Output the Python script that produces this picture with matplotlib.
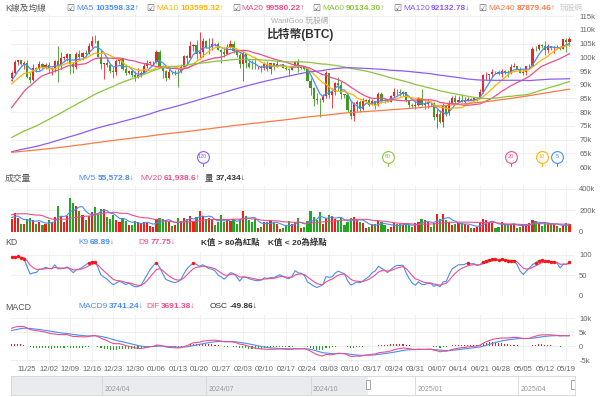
import numpy as np
import pandas as pd
import matplotlib
matplotlib.use('Agg')
import matplotlib.pyplot as plt
import matplotlib.dates as mdates
from matplotlib.patches import Rectangle

plt.rcParams['font.family'] = ['Liberation Sans', 'Noto Sans CJK TC', 'DejaVu Sans']

# daily closes before the first visible candle (2024-03-25 .. 2024-11-19), k USD,
# only used to warm up the moving averages / KD / MACD
pre_close = [
    69.9, 69.9, 69.4, 71.3, 70.0, 69.6, 71.3,
    69.7, 65.4, 65.9, 68.5, 67.8, 68.9, 69.4, 71.6, 69.1, 70.6, 70.0, 67.1, 63.8, 65.7, 63.4,
    63.8, 61.3, 63.5, 63.8, 64.9, 64.9, 66.8, 66.4, 64.3, 64.5, 64.0, 63.4, 63.1, 63.8, 60.6,
    58.3, 59.1, 62.9, 63.9, 64.0, 63.2, 62.3, 61.2, 63.1, 60.8, 60.8, 61.5, 62.9, 61.6, 66.3,
    65.2, 67.0, 66.9, 66.3, 71.4, 70.1, 69.1, 67.9, 68.5, 69.3, 68.5, 69.4, 68.4, 67.6, 68.4, 67.5,
    67.8, 67.8, 68.8, 70.6, 71.1, 70.8, 69.3, 69.3, 69.6, 69.5, 67.3, 68.2, 66.8, 66.0, 66.2,
    66.7, 66.5, 65.2, 64.9, 64.8, 64.1, 64.3, 63.2, 60.3, 61.8, 60.9, 61.6, 60.3, 60.9, 62.7,
    62.9, 62.0, 60.2, 57.0, 56.7, 58.2, 55.9, 56.7, 57.9, 57.7, 57.3, 57.9, 59.2, 60.8, 64.8,
    65.1, 64.1, 63.9, 66.7, 67.2, 68.2, 67.6, 65.9, 65.4, 65.8, 67.9, 68.0, 68.3, 66.8, 66.2, 64.6,
    65.4, 61.5, 60.7, 58.2, 54.0, 56.0, 55.0, 61.7, 60.9, 60.9, 58.7, 59.4, 60.6, 58.7, 57.6,
    58.9, 59.5, 58.4, 59.5, 59.0, 61.2, 60.4, 64.1, 64.2, 64.2, 62.8, 59.5, 59.0, 59.4, 59.1, 58.9,
    57.3, 59.1, 57.5, 58.0, 56.2, 53.9, 54.9, 54.9, 57.0, 57.6, 57.3, 58.1, 60.5, 60.0, 59.2,
    58.2, 60.3, 61.8, 62.9, 63.2, 63.3, 63.6, 63.3, 64.3, 63.2, 65.2, 65.8, 65.9, 65.6, 63.3,
    60.8, 60.6, 60.8, 62.1, 62.1, 62.8, 62.2, 62.1, 60.6, 60.3, 62.4, 63.2, 62.9, 66.0, 67.0,
    67.6, 67.4, 68.4, 68.4, 69.0, 67.4, 67.4, 66.7, 68.2, 66.6, 67.0, 68.0, 69.9, 72.7, 72.3, 70.2,
    69.5, 69.4, 68.8, 67.8, 69.4, 75.6, 75.9, 76.5, 76.7, 80.5, 88.7, 88.0, 90.4, 87.3, 91.1,
    90.6, 89.8, 90.5, 92.3,
]
pre_volume = [80, 60, 55, 90, 110, 240, 170, 130, 90, 170, 300, 320, 270, 230, 200, 120, 110, 160, 150]

first_day = '2024-11-20'
opens = [
    92.3, 94.3, 98.4, 98.9, 97.7, 97.9, 93.0, 91.9, 96.0, 95.6,
    97.5, 96.4, 97.2, 95.8, 96.0, 98.6, 97.0, 99.9, 99.9, 101.1,
    97.4, 96.6, 101.1, 100.0, 101.4, 101.3, 104.3, 106.1, 106.0, 100.2,
    97.5, 97.8, 97.2, 95.1, 94.7, 98.7, 99.4, 95.8, 94.2, 95.1,
    93.7, 92.8, 93.4, 94.4, 96.9, 98.1, 98.2, 98.3, 102.1, 96.9,
    95.0, 92.5, 94.7, 94.5, 94.6, 94.5, 96.5, 100.5, 99.8, 104.1,
    104.5, 101.1, 102.0, 106.1, 103.7, 103.9, 104.8, 104.7, 102.6, 102.1,
    101.3, 103.7, 104.7, 102.4, 100.7, 97.7, 101.4, 97.9, 96.6, 96.5,
    96.4, 96.5, 96.1, 97.4, 95.7, 97.8, 96.6, 97.5, 97.6, 96.1,
    95.8, 95.5, 96.6, 98.3, 96.1, 96.6, 95.7, 91.5, 88.7, 84.7,
    84.5, 84.4, 86.0, 94.2, 86.1, 87.2, 90.6, 89.9, 86.7, 86.1,
    80.7, 78.5, 82.9, 83.7, 81.0, 84.0, 84.3, 82.6, 84.0, 82.7,
    86.8, 84.2, 84.0, 83.8, 86.0, 87.5, 87.4, 86.9, 87.2, 84.3,
    82.6, 82.3, 82.5, 85.1, 82.5, 83.1, 83.8, 83.5, 78.2, 79.2,
    76.3, 82.6, 79.6, 83.4, 85.3, 83.7, 84.5, 83.6, 84.0, 84.9,
    84.4, 85.0, 85.2, 87.5, 93.4, 93.7, 93.9, 94.7, 94.6, 93.8,
    95.0, 94.3, 94.2, 96.5, 96.9, 95.9, 94.3, 94.7, 96.8, 97.0,
    103.2, 102.9, 104.6, 104.1, 102.8, 104.1, 103.5, 103.7, 103.5, 103.1,
    106.5, 105.6,
]
highs = [
    94.9, 98.9, 99.1, 99.0, 98.7, 98.9, 94.7, 97.4, 96.6, 98.7,
    97.8, 97.9, 98.2, 96.3, 99.0, 104.0, 101.9, 100.5, 101.4, 101.2,
    98.2, 101.9, 102.5, 102.0, 102.6, 105.1, 107.8, 108.3, 106.5, 102.8,
    98.1, 99.5, 97.4, 96.4, 99.4, 99.9, 99.9, 97.5, 95.5, 95.2,
    94.9, 96.2, 95.0, 97.8, 98.9, 98.7, 98.8, 102.5, 102.7, 97.3,
    95.4, 95.9, 94.9, 95.4, 95.9, 97.4, 100.7, 100.8, 105.9, 104.9,
    106.3, 109.4, 107.2, 106.4, 106.9, 107.1, 105.3, 105.5, 103.2, 103.8,
    104.8, 106.4, 106.1, 102.8, 101.5, 102.5, 101.7, 99.0, 99.2, 100.1,
    96.9, 97.3, 98.3, 98.5, 98.1, 98.0, 98.9, 97.7, 97.7, 97.0,
    96.0, 96.9, 98.8, 99.5, 96.9, 96.7, 96.5, 92.5, 89.3, 87.0,
    85.1, 86.5, 95.0, 94.4, 88.9, 90.9, 92.8, 91.2, 86.8, 86.5,
    84.0, 83.6, 84.4, 84.3, 85.3, 84.7, 85.0, 84.8, 84.0, 87.4,
    87.4, 84.8, 84.5, 86.1, 88.8, 88.5, 88.3, 87.8, 87.5, 84.6,
    83.5, 83.9, 85.5, 88.5, 83.9, 84.7, 84.2, 83.8, 81.2, 80.8,
    83.5, 82.7, 84.3, 85.9, 86.1, 85.8, 86.5, 85.5, 85.5, 85.1,
    85.6, 85.3, 88.5, 93.8, 94.7, 94.0, 95.8, 95.1, 95.2, 95.6,
    95.4, 95.2, 97.4, 97.9, 96.9, 96.3, 95.2, 96.9, 97.7, 103.9,
    104.3, 104.9, 104.9, 105.8, 104.9, 104.3, 104.2, 104.6, 103.7, 106.7,
    107.1, 107.3,
]
lows = [
    91.5, 94.1, 97.2, 97.2, 95.8, 92.6, 90.8, 91.5, 94.6, 95.4,
    96.2, 95.7, 94.4, 93.6, 94.7, 91.0, 95.9, 98.9, 98.7, 94.1,
    94.3, 95.7, 99.3, 99.2, 100.6, 101.2, 103.3, 105.3, 100.0, 95.7,
    92.2, 96.4, 94.2, 92.5, 93.4, 97.6, 95.2, 93.4, 94.1, 93.0,
    91.5, 92.6, 92.7, 94.2, 96.0, 97.5, 97.3, 97.9, 96.1, 92.5,
    91.2, 92.2, 93.8, 93.7, 89.3, 94.3, 96.5, 97.3, 99.8, 102.3,
    99.5, 99.5, 100.1, 103.3, 101.2, 102.8, 104.1, 102.5, 97.8, 100.3,
    101.3, 103.3, 101.5, 100.3, 96.2, 91.2, 96.2, 96.2, 95.7, 95.7,
    95.7, 94.7, 95.3, 94.9, 94.1, 95.2, 96.3, 97.2, 96.0, 95.2,
    93.3, 95.5, 96.4, 94.8, 95.9, 95.3, 91.2, 86.1, 82.2, 82.8,
    78.2, 83.8, 85.0, 85.1, 81.4, 86.4, 87.8, 84.7, 85.2, 80.0,
    77.5, 76.6, 80.6, 79.9, 80.8, 83.6, 82.1, 82.5, 81.1, 82.4,
    83.2, 83.2, 83.7, 83.7, 85.5, 86.3, 85.9, 85.8, 83.6, 81.6,
    81.6, 81.3, 82.4, 82.3, 81.2, 81.6, 82.3, 77.2, 74.4, 76.2,
    74.6, 78.5, 78.9, 82.8, 83.0, 83.7, 83.6, 83.1, 83.9, 84.3,
    84.4, 83.9, 85.1, 87.1, 91.9, 91.7, 92.9, 93.9, 93.6, 92.9,
    93.8, 92.9, 94.1, 96.4, 95.8, 94.2, 93.5, 93.4, 95.8, 97.0,
    102.3, 102.8, 103.3, 100.8, 101.5, 102.7, 101.4, 103.1, 102.6, 103.0,
    102.0, 104.3,
]
closes = [
    94.3, 98.4, 98.9, 97.7, 97.9, 93.0, 91.9, 96.0, 95.6, 97.5,
    96.4, 97.2, 95.8, 96.0, 98.6, 97.0, 99.9, 99.9, 101.1, 97.4,
    96.6, 101.1, 100.0, 101.4, 101.3, 104.3, 106.1, 106.0, 100.2, 97.5,
    97.8, 97.2, 95.1, 94.7, 98.7, 99.4, 95.8, 94.2, 95.1, 93.7,
    92.8, 93.4, 94.4, 96.9, 98.1, 98.2, 98.3, 102.1, 96.9, 95.0,
    92.5, 94.7, 94.5, 94.6, 94.5, 96.5, 100.5, 99.8, 104.1, 104.5,
    101.1, 102.0, 106.1, 103.7, 103.9, 104.8, 104.7, 102.6, 102.1, 101.3,
    103.7, 104.7, 102.4, 100.7, 97.7, 101.4, 97.9, 96.6, 96.5, 96.4,
    96.5, 96.1, 97.4, 95.7, 97.8, 96.6, 97.5, 97.6, 96.1, 95.8,
    95.5, 96.6, 98.3, 96.1, 96.6, 95.7, 91.5, 88.7, 84.7, 84.5,
    84.4, 86.0, 94.2, 86.1, 87.2, 90.6, 89.9, 86.7, 86.1, 80.7,
    78.5, 82.9, 83.7, 81.0, 84.0, 84.3, 82.6, 84.0, 82.7, 86.8,
    84.2, 84.0, 83.8, 86.0, 87.5, 87.4, 86.9, 87.2, 84.3, 82.6,
    82.3, 82.5, 85.1, 82.5, 83.1, 83.8, 83.5, 78.2, 79.2, 76.3,
    82.6, 79.6, 83.4, 85.3, 83.7, 84.5, 83.6, 84.0, 84.9, 84.4,
    85.0, 85.2, 87.5, 93.4, 93.7, 93.9, 94.7, 94.6, 93.8, 95.0,
    94.3, 94.2, 96.5, 96.9, 95.9, 94.3, 94.7, 96.8, 97.0, 103.2,
    102.9, 104.6, 104.1, 102.8, 104.1, 103.5, 103.7, 103.5, 103.1, 106.5,
    105.6, 106.8,
]
volumes = [
    120, 175, 130, 70, 75, 120, 125, 110, 70, 95,
    60, 75, 110, 90, 135, 240, 150, 95, 150, 310,
    265, 240, 190, 160, 110, 150, 180, 230, 175, 215,
    215, 140, 120, 160, 110, 95, 130, 100, 60, 65,
    100, 90, 70, 90, 95, 55, 50, 120, 130, 120,
    110, 90, 55, 60, 130, 100, 130, 120, 150, 100,
    140, 190, 150, 120, 130, 110, 60, 90, 160, 95,
    110, 100, 120, 70, 120, 190, 150, 110, 90, 120,
    40, 50, 90, 95, 110, 85, 70, 30, 40, 60,
    100, 70, 90, 130, 40, 45, 100, 190, 140, 110,
    180, 70, 130, 160, 150, 120, 110, 130, 60, 90,
    130, 140, 110, 90, 80, 40, 50, 70, 70, 110,
    90, 60, 30, 50, 80, 70, 75, 60, 70, 60,
    50, 80, 90, 120, 110, 90, 45, 80, 170, 120,
    170, 110, 90, 60, 70, 80, 80, 75, 65, 40,
    35, 45, 90, 120, 110, 90, 85, 40, 50, 90,
    75, 70, 70, 70, 40, 45, 70, 75, 80, 110,
    100, 85, 55, 90, 85, 75, 70, 55, 40, 65,
    80, 75,
]
assert len(opens) == len(highs) == len(lows) == len(closes) == len(volumes)

ma_periods = [5, 10, 20, 60, 120, 240]
ma_colors = ['#4a8cf7', '#ffb300', '#ec4f8b', '#8bc53f', '#8d5cf6', '#ff7a45']
ma_values = ['103598.32↑', '103595.32↑', '99580.22↑', '90134.30↑', '92132.78↓', '87879.46↑']
blue, pink = '#4a8cf7', '#ec4f8b'
up_c, dn_c = '#e8262a', '#3d9c1f'

n = len(closes)
x = np.arange(n)
dates = pd.date_range(first_day, periods=n)
o = np.array(opens) * 1000
h = np.array(highs) * 1000
l = np.array(lows) * 1000
c = np.array(closes) * 1000
v = np.array(volumes) * 1000
up = c >= o

# indicators
all_c = pd.Series(pre_close + closes) * 1000
mas = {p: all_c.rolling(p).mean().values[-n:] for p in ma_periods}
all_h = pd.Series(pre_close + highs) * 1000
all_l = pd.Series(pre_close + lows) * 1000
rsv = ((all_c - all_l.rolling(9).min()) / (all_h.rolling(9).max() - all_l.rolling(9).min()) * 100).values
K, D = [], []
k = d = 50.0
for r in rsv:
    if not np.isnan(r):
        k = k * 2 / 3 + r / 3
        d = d * 2 / 3 + k / 3
    K.append(k)
    D.append(d)
K = np.array(K[-n:])
D = np.array(D[-n:])
dif = all_c.ewm(span=12, adjust=False).mean() - all_c.ewm(span=26, adjust=False).mean()
macd9 = dif.ewm(span=9, adjust=False).mean()
osc = (dif - macd9).values[-n:]
dif = dif.values[-n:]
macd9 = macd9.values[-n:]
all_v = pd.Series(pre_volume + volumes) * 1000
mv5 = all_v.rolling(5).mean().values[-n:]
mv20 = all_v.rolling(20).mean().values[-n:]

# layout in pixels
W, H = 600, 397
fig = plt.figure(figsize=(6, 3.97), dpi=100)
fig.patch.set_facecolor('white')
renderer = fig.canvas.get_renderer()


def box(left, top, right, bottom):
    return [left / W, 1 - bottom / H, (right - left) / W, (bottom - top) / H]


def ptext(px, py, s, **kw):
    kw.setdefault('fontsize', 6)
    return fig.text(px / W, 1 - py / H, s, va='center', ha='left', **kw)


def chain(px, py, parts, gap=2):
    # put text pieces one after another on a row
    for s, col, bold in parts:
        t = ptext(px, py, s, color=col, fontweight='bold' if bold else 'normal')
        px = t.get_window_extent(renderer).x1 + gap
    return px


ax_p = fig.add_axes(box(11, 14, 575, 167))
ax_v = fig.add_axes(box(11, 186, 575, 232))
ax_kd = fig.add_axes(box(11, 252, 575, 296))
ax_m = fig.add_axes(box(11, 315, 575, 362))
ax_n = fig.add_axes(box(11, 376, 575, 395))

mondays = [i for i, dt in enumerate(dates) if dt.weekday() == 0]
for ax in (ax_p, ax_v, ax_kd, ax_m):
    ax.set_xlim(-0.2, n + 0.8)
    for s in ax.spines.values():
        s.set_visible(False)
    ax.yaxis.tick_right()
    ax.tick_params(axis='y', length=0, labelsize=5.5, labelcolor='#666', pad=3)
    ax.tick_params(axis='x', length=0, labelsize=5.5, labelcolor='#666', pad=3)
    ax.set_xticks(mondays)
    ax.grid(True, color='#eeeeee', lw=0.6)
    ax.set_axisbelow(True)
    if ax is not ax_m:
        ax.set_xticklabels([])
ax_m.set_xticklabels([dates[i].strftime('%m/%d') for i in mondays])

# price panel
ax_p.vlines(x, l, h, color=np.where(up, up_c, dn_c), lw=0.6)
ax_p.bar(x, np.maximum(np.abs(c - o), 60), bottom=np.minimum(o, c), width=0.7,
         color=np.where(up, up_c, dn_c), lw=0)
for p, col in zip(ma_periods, ma_colors):
    ax_p.plot(x, mas[p], color=col, lw=0.9)
ax_p.set_ylim(60000, 115800)
pt = np.arange(60000, 115001, 5000)
ax_p.set_yticks(pt)
ax_p.set_yticklabels([f'{t // 1000}k' for t in pt])
tr = ax_p.get_xaxis_transform()
for p, col in zip(ma_periods[:5], ma_colors[:5]):
    xi = n - p
    ax_p.plot([xi, xi], [0, 0.04], color=col, lw=0.8, transform=tr)
    ax_p.plot([xi], [0.068], marker='o', ms=8.5, mfc='white', mec=col, mew=0.8, transform=tr)
    ax_p.text(xi, 0.068, str(p), color=col, fontsize=4, ha='center', va='center', transform=tr)

# volume panel
ax_v.bar(x, v, width=0.7, color=np.where(up, '#f21d1d', '#22a722'), lw=0)
ax_v.plot(x, mv5, color=blue, lw=0.8)
ax_v.plot(x, mv20, color=pink, lw=0.8)
ax_v.set_ylim(0, 423000)
ax_v.set_yticks([0, 200000, 400000])
ax_v.set_yticklabels(['0', '200k', '400k'])

# KD panel
ax_kd.plot(x, K, color=blue, lw=0.8)
ax_kd.plot(x, D, color=pink, lw=0.8)
hot = K > 80
cold = K < 20
ax_kd.scatter(x[hot], K[hot], s=6, color='#ff1010', zorder=3, lw=0)
ax_kd.scatter(x[cold], K[cold], s=6, color='#10a010', zorder=3, lw=0)
ax_kd.set_ylim(0, 107)
ax_kd.set_yticks([0, 50, 100])

# MACD panel
ax_m.bar(x, osc, width=0.35, color=np.where(osc >= 0, '#f21d1d', '#22a722'), lw=0)
ax_m.plot(x, macd9, color=blue, lw=0.8)
ax_m.plot(x, dif, color=pink, lw=0.8)
ax_m.set_ylim(-5530, 11060)
ax_m.set_yticks([-5000, 0, 5000, 10000])
ax_m.set_yticklabels(['-5k', '0', '5k', '10k'])

# navigator
nav_lo, nav_hi = pd.Timestamp('2024-01-12'), pd.Timestamp('2025-05-21')
ax_n.set_xlim(mdates.date2num(nav_lo), mdates.date2num(nav_hi))
ax_n.set_ylim(0, 1)
ax_n.set_xticks([])
ax_n.set_yticks([])
for s in ax_n.spines.values():
    s.set_color('#d3d6da')
    s.set_linewidth(0.6)
ax_n.axvspan(nav_lo, dates[0], color='#e9ebee', lw=0)
for q in pd.to_datetime(['2024-04-01', '2024-07-01', '2024-10-01', '2025-01-01', '2025-04-01']):
    ax_n.axvline(q, color='#d3d6da', lw=0.6)
    ax_n.text(q + pd.Timedelta(days=2), 0.28, q.strftime('%Y/%m'), fontsize=5, color='#999', va='center')
ntr = ax_n.get_xaxis_transform()
for hd in (dates[0], nav_hi - pd.Timedelta(days=2)):
    ax_n.add_patch(Rectangle((mdates.date2num(hd) - 1.8, 0.3), 3.6, 0.5, transform=ntr,
                             facecolor='white', edgecolor='#999', lw=0.6, zorder=4))

# header rows
ptext(5, 8, 'K線及均線', color='#555', fontsize=6.3)
px = 66
for p, col, val in zip(ma_periods, ma_colors, ma_values):
    t = ptext(px, 8, '☑', color='#666', fontsize=6.5, family='DejaVu Sans')
    px = t.get_window_extent(renderer).x1 + 2
    px = chain(px, 8, [(f'MA{p}', col, False), (val, col, True)], gap=1.5) + 6
fig.text(0.5, 1 - 21 / H, 'WantGoo 玩股網', fontsize=5.5, color='#aaa', ha='center', va='center')
fig.text(0.5, 1 - 34 / H, '比特幣(BTC)', fontsize=8.5, color='#333', ha='center', va='center', fontweight='bold')
ptext(560, 8, '玩股網', color='#c8c8c8', fontsize=5.5)

ptext(5, 178, '成交量', color='#555', fontsize=6.3)
chain(78, 178, [('MV5', blue, False), ('55,572.8↓', blue, True)])
chain(140, 178, [('MV20', pink, False), ('61,938.6↑', pink, True)])
chain(205, 178, [('量', '#333', False), ('37,434↓', '#333', True)])

ptext(5, 243, 'KD', color='#555', fontsize=6.3)
chain(78, 243, [('K9', blue, False), ('68.89↓', blue, True)])
chain(138, 243, [('D9', pink, False), ('77.75↓', pink, True)])
ptext(201, 243, 'K值 > 80為紅點', color='#333', fontweight='bold')
ptext(268, 243, 'K值 < 20為綠點', color='#333', fontweight='bold')

ptext(5, 307, 'MACD', color='#555', fontsize=6.3)
chain(78, 307, [('MACD9', blue, False), ('3741.24↓', blue, True)])
chain(146, 307, [('DIF', pink, False), ('3691.38↓', pink, True)])
chain(210, 307, [('OSC', '#333', False), ('-49.86↓', '#333', True)])

fig.savefig('out.png', dpi=100, facecolor='white')
